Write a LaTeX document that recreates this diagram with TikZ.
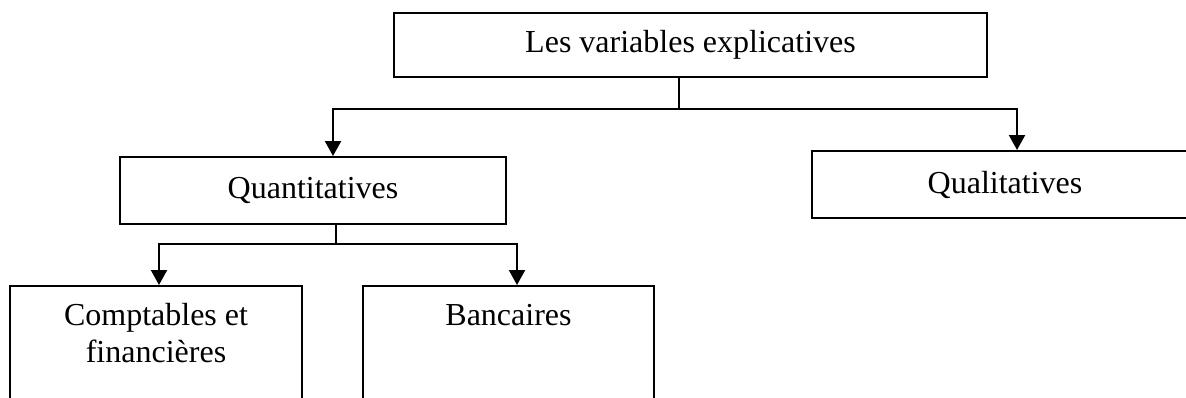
\documentclass[tikz,border=0pt]{standalone}
\usepackage{fontspec}
\setmainfont{Liberation Serif}
\usetikzlibrary{arrows.meta}
\tikzset{
  box/.style={draw=black, line width=1pt, rectangle, inner sep=0pt, font=\fontsize{16}{18.5}\selectfont},
  lbl/.style={inner sep=0pt, align=center, font=\fontsize{16}{18.5}\selectfont},
  link/.style={draw=black, line width=1.1pt},
  arr/.style={link, -{Triangle[width=8pt,length=7.5pt]}},
}
\begin{document}
\begin{tikzpicture}[x=0.5pt,y=-0.5pt]
\useasboundingbox (0,0) rectangle (1186,397);
\clip (0,0) rectangle (1186,397);
\fill[white] (0,0) rectangle (1186,397);
\node[box, minimum width=296.5pt, minimum height=32pt] (top) at (690.5,45) {Les variables explicatives};
\node[box, minimum width=193pt, minimum height=33.5pt] (quant) at (313,190.5) {Quantitatives};
\node[box, minimum width=193pt, minimum height=33.5pt] (qual) at (1005,184.5) {Qualitatives};
\node[box, minimum width=146pt, minimum height=70pt] (compt) at (156,356) {};
\node[box, minimum width=145.5pt, minimum height=70pt] (banc) at (508.5,356) {};
\node[lbl, anchor=base] (comptt) at (156,362) {Comptables et\\financières};
\node[lbl, anchor=base] (banct) at (508.5,325) {Bancaires};
\coordinate (j1) at (679,109);
\coordinate (j2) at (336,244);
\draw[link] (top.south -| j1) -- (j1);
\draw[arr] (j1) -| ([xshift=10pt]quant.north);
\draw[arr] (j1) -| ([xshift=6pt]qual.north);
\draw[link] (quant.south -| j2) -- (j2);
\draw[arr] (j2) -| ([xshift=1.5pt]compt.north);
\draw[arr] (j2) -| ([xshift=4.25pt]banc.north);
\end{tikzpicture}
\end{document}
